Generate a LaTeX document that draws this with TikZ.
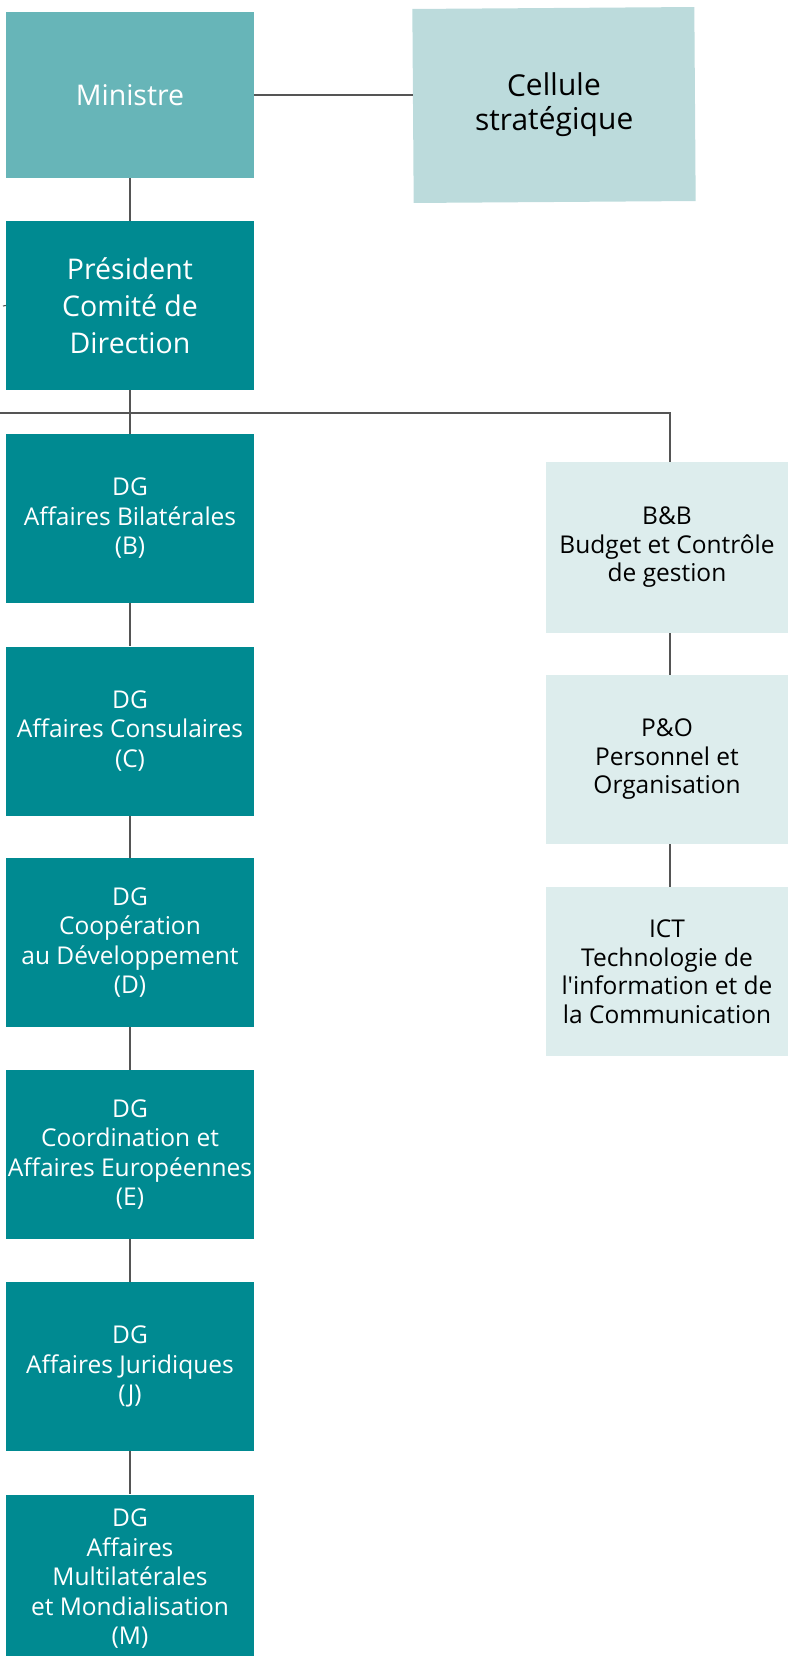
\documentclass[tikz,border=0pt]{standalone}
\usepackage{fontspec}
\setmainfont{Open Sans}
\definecolor{minc}{HTML}{67B5B8}
\definecolor{teal1}{HTML}{008A91}
\definecolor{celc}{HTML}{BCDBDC}
\definecolor{lightc}{HTML}{DDEDED}
\definecolor{linec}{HTML}{555555}
\begin{document}
\begin{tikzpicture}[x=1pt,y=-1pt,
  box/.style={rectangle,inner sep=0pt,align=center,minimum width=248pt,minimum height=169pt},
  dgbox/.style={box,fill=teal1,text=white,font=\fontsize{24.5}{29.5}\selectfont},
  rbox/.style={box,fill=lightc,text=black,minimum width=242pt,font=\fontsize{24.5}{28.5}\selectfont},
  conn/.style={draw=linec,line width=1.1pt}]
\useasboundingbox (0,0) rectangle (788,1656);
% top boxes
\node[box,fill=minc,text=white,minimum height=166pt,font=\fontsize{28.5}{35}\selectfont] (min) at (130,95) {Ministre};
\node[box,fill=celc,text=black,minimum width=282pt,minimum height=194pt,rotate=0.4,font=\fontsize{30}{34}\selectfont] (cel) at (554,105) {Cellule\\strat\'egique};
\node[box,fill=teal1,text=white,font=\fontsize{28.5}{37}\selectfont] (pres) at (130,305.5) {Pr\'esident\\Comit\'e de\\Direction};
% DG column
\node[dgbox] (dgB) at (130,518.5) {DG\\Affaires Bilat\'erales\\(B)};
\node[dgbox] (dgC) at (130,731) {DG\\Affaires Consulaires\\(C)};
\node[dgbox] (dgD) at (130,942.5) {DG\\Coop\'eration\\au D\'eveloppement\\(D)};
\node[dgbox] (dgE) at (130,1154.5) {DG\\Coordination et\\Affaires Europ\'eennes\\(E)};
\node[dgbox] (dgJ) at (130,1366.5) {DG\\Affaires Juridiques\\(J)};
\node[dgbox] (dgM) at (130,1579) {DG\\Affaires\\Multilat\'erales\\et Mondialisation\\(M)};
% right column
\node[rbox,minimum height=171pt] (bb) at (667,547.5) {B\&B\\Budget et Contr\^ole\\de gestion};
\node[rbox] (po) at (667,759.5) {P\&O\\Personnel et\\Organisation};
\node[rbox] (ict) at (667,971.5) {ICT\\Technologie de\\l\textquotesingle information et de\\la Communication};
% connectors
\draw[conn] (min.east) -- (min.east -| cel.west);
\draw[conn] (min.south) -- (pres.north);
\coordinate (lt) at (3,306);
\draw[conn] (lt) -- (pres.west);
\coordinate (busL) at (0,413);
\coordinate (busR) at (670,413);
\draw[conn] (busL) -- (busR) -- (busR |- bb.north);
\draw[conn] (pres.south) -- (dgB.north);
\draw[conn] (dgB.south) -- (dgC.north);
\draw[conn] (dgC.south) -- (dgD.north);
\draw[conn] (dgD.south) -- (dgE.north);
\draw[conn] (dgE.south) -- (dgJ.north);
\draw[conn] (dgJ.south) -- (dgM.north);
\draw[conn] (bb.south -| busR) -- (po.north -| busR);
\draw[conn] (po.south -| busR) -- (ict.north -| busR);
\end{tikzpicture}
\end{document}
